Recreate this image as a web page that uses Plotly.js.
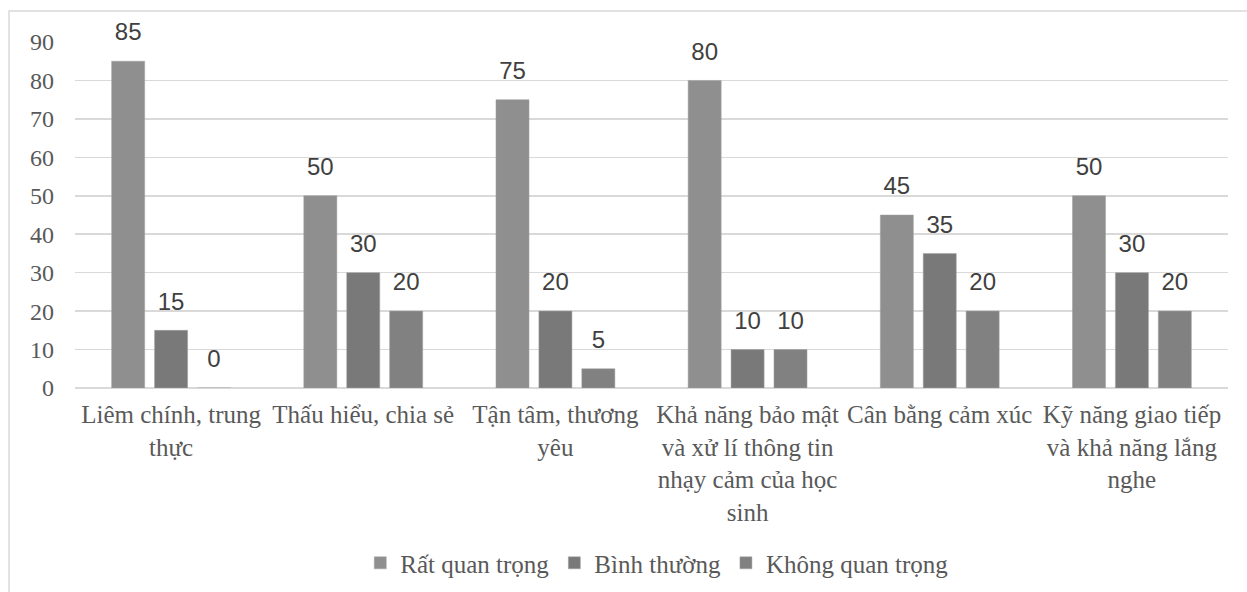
<!DOCTYPE html>
<html><head><meta charset="utf-8">
<script src="https://cdn.plot.ly/plotly-3.0.1.min.js"></script>
<style>html,body{margin:0;padding:0;background:#fff;overflow:hidden}#c{width:1247px;height:592px}</style>
</head><body><div id="c"></div>
<script>
const categories = ["Liêm chính, trung<br>thực","Thấu hiểu, chia sẻ","Tận tâm, thương<br>yêu","Khả năng bảo mật<br>và xử lí thông tin<br>nhạy cảm của học<br>sinh","Cân bằng cảm xúc","Kỹ năng giao tiếp<br>và khả năng lắng<br>nghe"];
const seriesNames = ["Rất quan trọng","Bình thường","Không quan trọng"];
const rqt = [85,50,75,80,45,50];
const bt = [15,30,20,10,35,30];
const kqt = [0,20,5,10,20,20];
const colors = ["#8f8f8f","#797979","#818181"];
const vals = [rqt,bt,kqt];
const serif = 'Liberation Serif, Times New Roman, serif';
const traces = vals.map((v,i)=>({
  type:'bar', x:categories, y:v, name:seriesNames[i], offsetgroup:String(i),
  marker:{color:colors[i], line:{color:'#a0a0a0', width:0.5}}
}));
const labels = vals.map((v,i)=>({
  type:'scatter', mode:'markers+text', x:categories, y:v, offsetgroup:String(i), showlegend:false,
  marker:{size:22, opacity:0}, text:v.map(String), textposition:'top center', cliponaxis:false,
  textfont:{family:'Liberation Sans, Arial, sans-serif', size:24, color:'#404040'}, hoverinfo:'skip'
}));
const layout = {
  width:1247, height:592,
  margin:{l:75, r:19, t:42, b:204, autoexpand:false},
  paper_bgcolor:'#fff', plot_bgcolor:'#fff',
  barmode:'group', bargap:0.33, bargroupgap:0.23,
  scattermode:'group', scattergap:0.33,
  font:{family:serif, size:25, color:'#595959'},
  xaxis:{tickfont:{family:serif, size:25, color:'#595959'}, showline:false, ticks:'', automargin:false, ticklabelstandoff:9},
  yaxis:{range:[0,90], dtick:10, gridcolor:'#d9d9d9', gridwidth:1.5, zeroline:true, zerolinecolor:'#d9d9d9', zerolinewidth:1.5,
    tickfont:{family:serif, size:24, color:'#595959'}, ticks:'', ticklabelstandoff:20, automargin:false},
  showlegend:true,
  legend:{orientation:'h', x:0.505, xanchor:'center', y:-0.506, yanchor:'middle',
    font:{family:serif, size:25, color:'#595959'}, itemwidth:30, traceorder:'normal'},
  shapes:[{type:'rect', xref:'paper', yref:'paper', x0:-0.0572, x1:1.02, y0:-0.62, y1:1.0896, line:{color:'#d9d9d9', width:1.5}}]
};
Plotly.newPlot('c', traces.concat(labels), layout, {displayModeBar:false, staticPlot:true});
</script></body></html>
